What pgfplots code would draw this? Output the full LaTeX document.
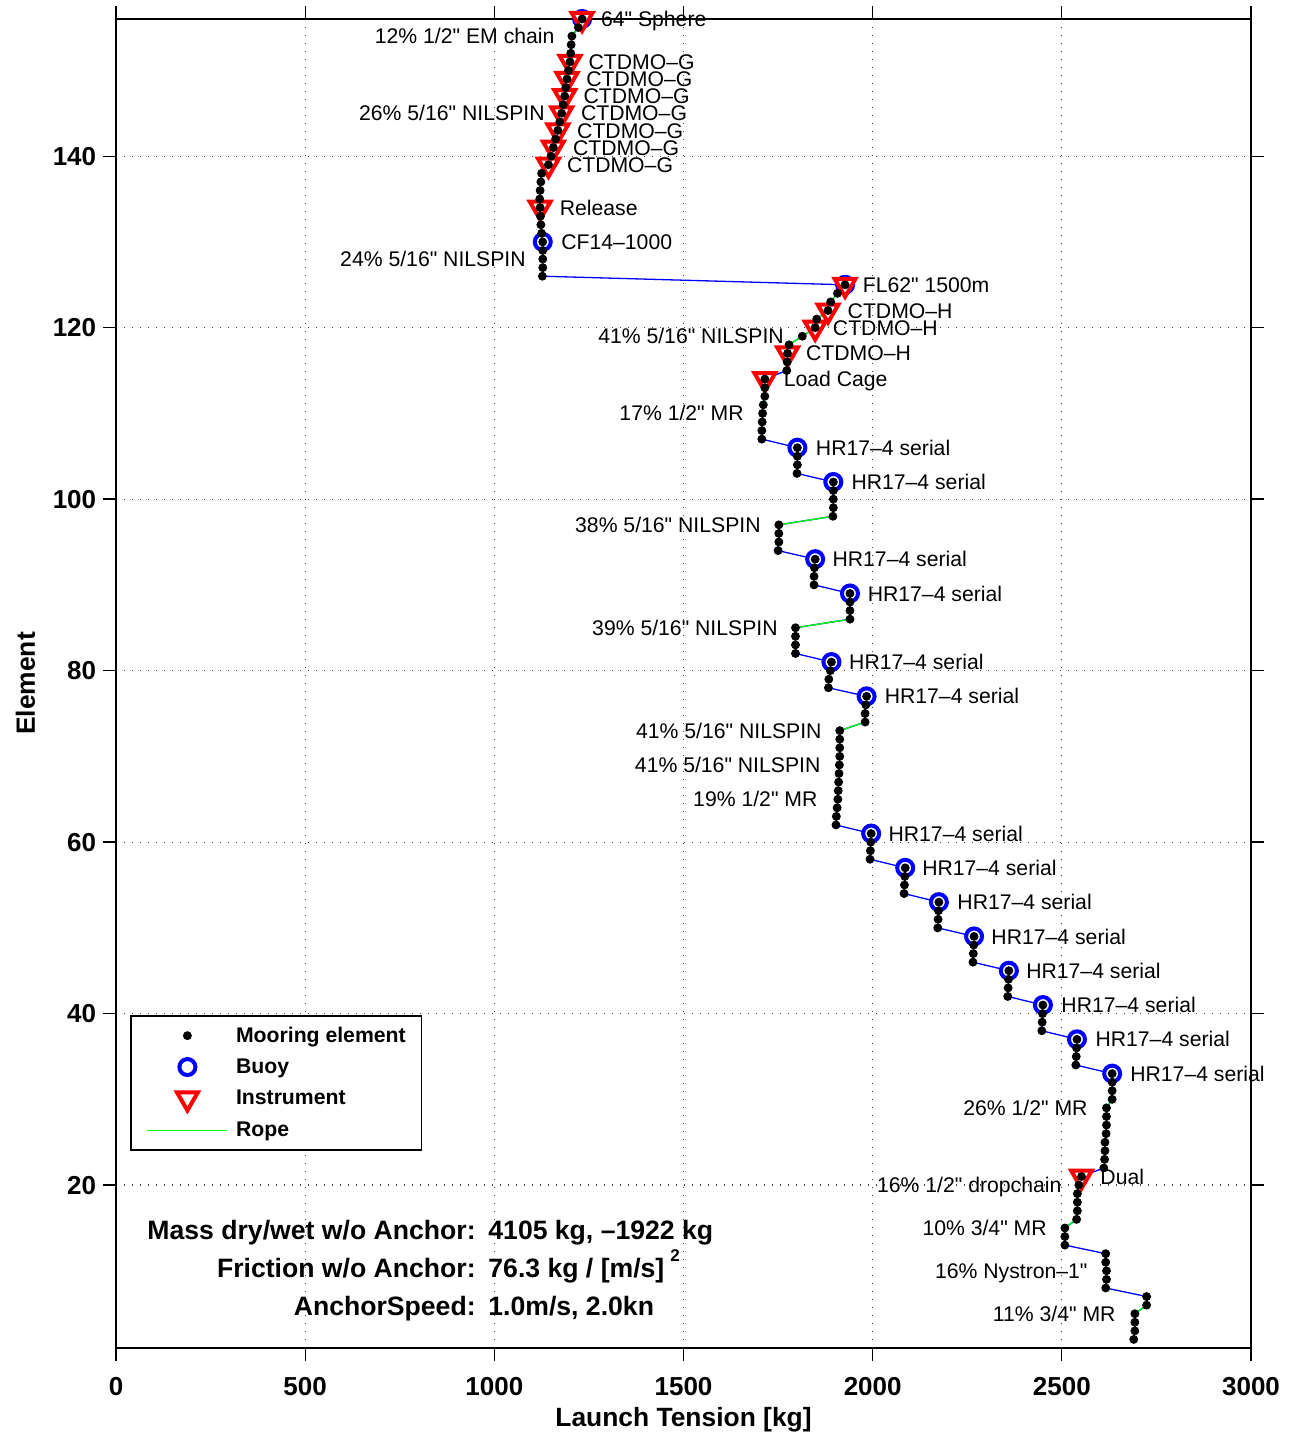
\documentclass[border=0pt]{standalone}
\usepackage{pgfplots}
\pgfplotsset{compat=1.18}
\usepackage{pgfplotstable}
\usepackage{fontspec}
\setmainfont{Liberation Sans}[Ligatures=TeXOff]

\definecolor{mblue}{rgb}{0,0,1}
\definecolor{mgreen}{rgb}{0,1,0}
\definecolor{mred}{rgb}{1,0,0}

% all mooring elements: element number, launch tension [kg]
\pgfplotstableread{
elem x
156 1232
155 1222
154 1205
153 1203
152 1202
151 1200
150 1196
149 1192
148 1189
147 1186
146 1182
145 1178
144 1173
143 1168
142 1162
141 1156
140 1150
139 1143
138 1125
137 1123
136 1121
135 1120
134 1121
133 1122
132 1123
131 1125
130 1128
129 1128
128 1128
127 1128
126 1127
125 1927
124 1907
123 1889
122 1882
121 1852
120 1848
119 1814
118 1779
117 1775
116 1774
115 1773
114 1715
113 1715
112 1715
111 1711
110 1709
109 1708
108 1707
107 1707
106 1801
105 1801
104 1801
103 1800
102 1896
101 1896
100 1896
99 1896
98 1895
97 1752
96 1752
95 1752
94 1750
93 1848
92 1846
91 1845
90 1845
89 1940
88 1940
87 1940
86 1940
85 1796
84 1796
83 1796
82 1796
81 1891
80 1888
79 1884
78 1883
77 1984
76 1982
75 1980
74 1980
73 1913
72 1913
71 1913
70 1913
69 1912
68 1911
67 1910
66 1909
65 1908
64 1906
63 1904
62 1903
61 1996
60 1995
59 1994
58 1993
57 2086
56 2085
55 2084
54 2083
53 2175
52 2174
51 2173
50 2172
49 2268
48 2267
47 2266
46 2265
45 2360
44 2359
43 2358
42 2357
41 2450
40 2449
39 2448
38 2447
37 2540
36 2539
35 2538
34 2537
33 2633
32 2633
31 2633
30 2633
29 2618
28 2618
27 2618
26 2617
25 2614
24 2614
23 2613
22 2611
21 2552
20 2545
19 2541
18 2541
17 2541
16 2539
15 2508
14 2508
13 2508
12 2616
11 2616
10 2618
9 2618
8 2616
7 2724
6 2724
5 2693
4 2693
3 2693
2 2690
}\moor

\pgfplotstableread{
elem x
156 1232
130 1128
125 1927
106 1801
102 1896
93 1848
89 1940
81 1891
77 1984
61 1996
57 2086
53 2175
49 2268
45 2360
41 2450
37 2540
33 2633
}\buoys

\pgfplotstableread{
elem x
156 1232
151 1200
149 1192
147 1186
145 1178
143 1168
141 1156
139 1143
134 1121
125 1927
122 1882
120 1848
117 1775
114 1715
21 2552
}\instr

\pgfplotsset{
  marklegend/.style={legend image code/.code={%
    \path[draw=none,fill=none] (0pt,0pt) (40pt,0pt);
    \draw[##1, /tikz/only marks] plot coordinates {(20pt,0pt)};}},
  linelegend/.style={legend image code/.code={%
    \draw[draw=mgreen, line width=0.65pt] (0pt,0pt) -- (40pt,0pt);}},
  dotstyle/.style={only marks, mark=*, mark size=2pt, black},
  buoystyle/.style={only marks, mark=*, mark size=4pt, mark options={draw=mblue, fill=white, line width=2pt}},
  inststyle/.style={only marks, mark=triangle*, mark size=6pt, mark options={draw=mred, fill=white, line width=2pt, rotate=180}},
  ropestyle/.style={draw=mgreen, line width=0.65pt, mark=none},
}
\tikzset{
  rl/.style={anchor=base west, inner sep=0pt, yshift=-3.8pt, font=\fontsize{10.6}{12}\selectfont},
  ll/.style={anchor=base east, inner sep=0pt, yshift=-3.8pt, font=\fontsize{10.6}{12}\selectfont},
  bt/.style={inner sep=0pt, font=\bfseries\fontsize{13.3}{16}\selectfont},
}

\begin{document}
\begin{tikzpicture}
\begin{axis}[
  scale only axis, width=567.5pt, height=664.5pt,
  xmin=0, xmax=3000, ymin=1, ymax=156,
  xtick={0,500,...,3000}, ytick={20,40,...,140},
  scaled x ticks=false, scaled y ticks=false,
  /pgf/number format/1000 sep={},
  /pgf/number format/assume math mode=true,
  tick align=outside, tick pos=both,
  major tick length=6.4pt,
  every tick/.style={black, line width=0.65pt},
  axis line style={line width=1pt},
  grid=major,
  major grid style={black!75, line width=0.6pt, dash pattern=on 0.6pt off 3.4pt},
  ticklabel style={font=\bfseries\fontsize{13}{15}\selectfont},
  xticklabel style={yshift=-4.5pt},
  xlabel={Launch Tension [kg]}, ylabel={Element},
  every axis x label/.style={at={(axis description cs:0.5,-0.0594)}, anchor=base,
    font=\bfseries\fontsize{13.2}{15}\selectfont},
  every axis y label/.style={at={(axis description cs:-0.0714,0.5)}, rotate=90, anchor=base,
    font=\bfseries\fontsize{13.2}{15}\selectfont},
  clip=false,
  legend cell align=left,
  legend style={at={(axis description cs:0.0123,0.2506)}, anchor=north west,
    draw=black, line width=0.8pt, fill=white,
    font=\bfseries\fontsize{10.6}{12}\selectfont,
    inner xsep=8pt, inner ysep=4.2pt, row sep=4.2pt, column sep=4pt,
    nodes={inner sep=0pt, text height=9pt, text depth=2.5pt}},
]
% connecting line (hardware) and rope segments
\addplot[mblue, line width=0.65pt, forget plot] table[x=x,y=elem] {\moor};
\addplot[ropestyle, forget plot, restrict y to domain=135:156] table[x=x,y=elem] {\moor};
\addplot[ropestyle, forget plot, restrict y to domain=126:130] table[x=x,y=elem] {\moor};
\addplot[ropestyle, forget plot, restrict y to domain=118:125] table[x=x,y=elem] {\moor};
\addplot[ropestyle, forget plot, restrict y to domain=107:114] table[x=x,y=elem] {\moor};
\addplot[ropestyle, forget plot, restrict y to domain=94:98] table[x=x,y=elem] {\moor};
\addplot[ropestyle, forget plot, restrict y to domain=82:86] table[x=x,y=elem] {\moor};
\addplot[ropestyle, forget plot, restrict y to domain=62:74] table[x=x,y=elem] {\moor};
\addplot[ropestyle, forget plot, restrict y to domain=29:30] table[x=x,y=elem] {\moor};
\addplot[ropestyle, forget plot, restrict y to domain=15:16] table[x=x,y=elem] {\moor};
\addplot[ropestyle, forget plot, restrict y to domain=5:6] table[x=x,y=elem] {\moor};
% buoys, instruments, elements
\addplot[buoystyle, forget plot] table[x=x,y=elem] {\buoys};
\addplot[inststyle, forget plot] table[x=x,y=elem] {\instr};
\addplot[dotstyle, forget plot] table[x=x,y=elem] {\moor};

\addlegendimage{dotstyle, mark size=1.8pt, marklegend}
\addlegendimage{buoystyle, marklegend}
\addlegendimage{inststyle, marklegend}
\addlegendimage{ropestyle, linelegend}
\legend{Mooring element, Buoy, Instrument, Rope}

% labels of buoys and instruments
\node[rl] at (axis cs:1281,156) {64" Sphere};
\node[rl] at (axis cs:1248,151) {CTDMO–G};
\node[rl] at (axis cs:1242,149) {CTDMO–G};
\node[rl] at (axis cs:1235,147) {CTDMO–G};
\node[rl] at (axis cs:1228,145) {CTDMO–G};
\node[rl] at (axis cs:1218,143) {CTDMO–G};
\node[rl] at (axis cs:1207,141) {CTDMO–G};
\node[rl] at (axis cs:1191,139) {CTDMO–G};
\node[rl] at (axis cs:1172,134) {Release};
\node[rl] at (axis cs:1176,130) {CF14–1000};
\node[rl] at (axis cs:1973,125) {FL62" 1500m};
\node[rl] at (axis cs:1933,122) {CTDMO–H};
\node[rl] at (axis cs:1894,120) {CTDMO–H};
\node[rl] at (axis cs:1823,117) {CTDMO–H};
\node[rl] at (axis cs:1764,114) {Load Cage};
\node[rl] at (axis cs:1849,106) {HR17–4 serial};
\node[rl] at (axis cs:1943,102) {HR17–4 serial};
\node[rl] at (axis cs:1893,93) {HR17–4 serial};
\node[rl] at (axis cs:1986,89) {HR17–4 serial};
\node[rl] at (axis cs:1937,81) {HR17–4 serial};
\node[rl] at (axis cs:2031,77) {HR17–4 serial};
\node[rl] at (axis cs:2041,61) {HR17–4 serial};
\node[rl] at (axis cs:2130,57) {HR17–4 serial};
\node[rl] at (axis cs:2223,53) {HR17–4 serial};
\node[rl] at (axis cs:2313,49) {HR17–4 serial};
\node[rl] at (axis cs:2405,45) {HR17–4 serial};
\node[rl] at (axis cs:2498,41) {HR17–4 serial};
\node[rl] at (axis cs:2588,37) {HR17–4 serial};
\node[rl] at (axis cs:2680,33) {HR17–4 serial};
\node[rl] at (axis cs:2601,21) {Dual};
% labels of wires and ropes
\node[ll] at (axis cs:1160,154) {12\% 1/2" EM chain};
\node[ll] at (axis cs:1134,145) {26\% 5/16" NILSPIN};
\node[ll] at (axis cs:1084,128) {24\% 5/16" NILSPIN};
\node[ll] at (axis cs:1766,119) {41\% 5/16" NILSPIN};
\node[ll] at (axis cs:1660,110) {17\% 1/2" MR};
\node[ll] at (axis cs:1705,97) {38\% 5/16" NILSPIN};
\node[ll] at (axis cs:1750,85) {39\% 5/16" NILSPIN};
\node[ll] at (axis cs:1866,73) {41\% 5/16" NILSPIN};
\node[ll] at (axis cs:1863,69) {41\% 5/16" NILSPIN};
\node[ll] at (axis cs:1855,65) {19\% 1/2" MR};
\node[ll] at (axis cs:2569,29) {26\% 1/2" MR};
\node[ll] at (axis cs:2500,20) {16\% 1/2" dropchain};
\node[ll] at (axis cs:2461,15) {10\% 3/4" MR};
\node[ll] at (axis cs:2569,10) {16\% Nystron–1"};
\node[ll] at (axis cs:2643,5) {11\% 3/4" MR};
% summary text
\node[bt, anchor=base east] at (axis cs:951.6,13.7) {Mass dry/wet w/o Anchor:};
\node[bt, anchor=base west] at (axis cs:983.3,13.7) {4105 kg, –1922 kg};
\node[bt, anchor=base east] at (axis cs:951.6,9.2) {Friction w/o Anchor:};
\node[bt, anchor=base west] at (axis cs:983.3,9.2) {76.3 kg / [m/s]\hspace{3pt}\raisebox{8pt}{\fontsize{8.5}{10}\selectfont 2}};
\node[bt, anchor=base east] at (axis cs:951.6,4.8) {AnchorSpeed:};
\node[bt, anchor=base west] at (axis cs:983.3,4.8) {1.0m/s, 2.0kn};

\coordinate (SW) at (rel axis cs:0,0);
\coordinate (NE) at (rel axis cs:1,1);
\end{axis}
\pgfresetboundingbox
\path[use as bounding box] ([shift={(-58pt,-42.5pt)}]SW) rectangle ([shift={(20pt,9.5pt)}]NE);
\end{tikzpicture}
\end{document}
